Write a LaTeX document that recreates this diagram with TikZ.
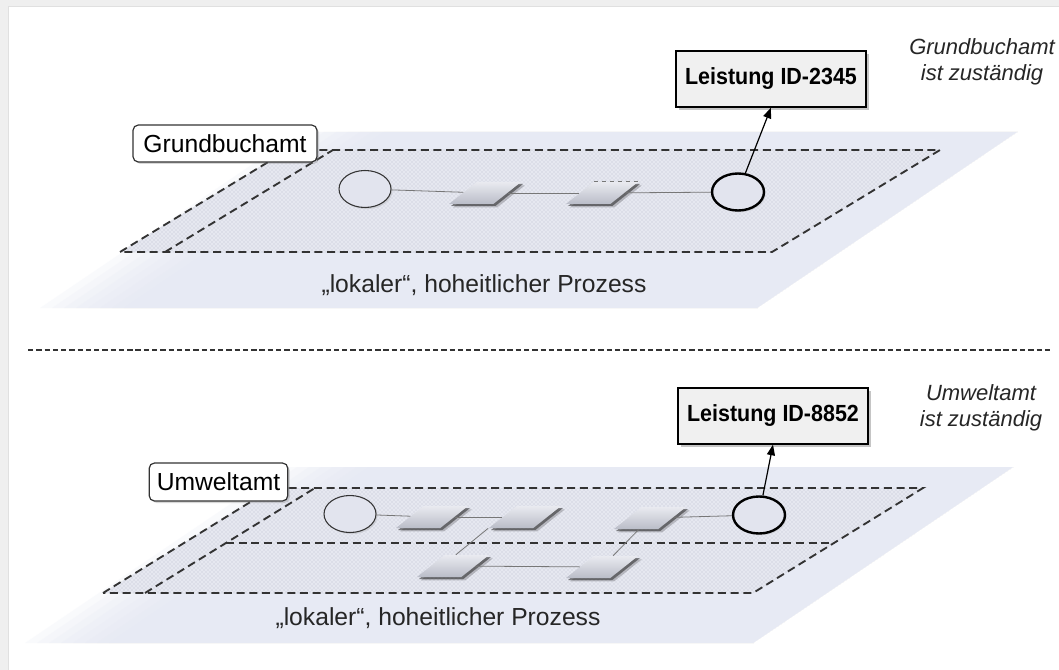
\documentclass[tikz,border=0pt]{standalone}
\usepackage{fontspec}
\setmainfont{Liberation Sans}
\newfontfamily\boxfont[FakeStretch=0.92]{Liberation Sans}
\usetikzlibrary{shapes.geometric,arrows.meta,shadows,patterns,calc}

\definecolor{plane}{HTML}{E4E7F4}
\definecolor{sheet}{HTML}{E6E8F0}
\definecolor{dotc}{HTML}{BCC1CE}
\definecolor{edge}{HTML}{333333}
\definecolor{taskhi}{HTML}{E9EAF0}
\definecolor{tasklo}{HTML}{BABDC8}
\definecolor{bubble}{HTML}{E2E4EE}
\definecolor{framec}{HTML}{EFEFEF}
\definecolor{flowc}{HTML}{777777}

\tikzset{
  sheetline/.style={draw=edge, line width=1.4pt, dash pattern=on 6pt off 3.5pt},
  task/.style={trapezium, trapezium left angle=31, trapezium right angle=149,
    trapezium stretches=true, minimum width=54pt, minimum height=16.5pt,
    inner sep=1pt, top color=taskhi, bottom color=tasklo,
    drop shadow={shadow xshift=2.8pt, shadow yshift=-2.6pt, opacity=0.2, fill=black},
    drop shadow={shadow xshift=1.5pt, shadow yshift=-1.5pt, opacity=0.55, fill=black!85}},
  startev/.style={ellipse, minimum width=39pt, minimum height=27.75pt,
    fill=bubble, draw=edge, line width=0.8pt, inner sep=0pt,
    drop shadow={shadow xshift=1.2pt, shadow yshift=-1.2pt, opacity=0.2}},
  endev/.style={startev, draw=black, line width=1.8pt},
  flow/.style={draw=flowc, line width=0.6pt},
  result/.style={draw=black, line width=0.9pt, fill=black!6,
    minimum width=142.5pt, minimum height=42pt, inner sep=0pt,
    font=\boxfont\bfseries\fontsize{17.5}{20}\selectfont,
    drop shadow={shadow xshift=2pt, shadow yshift=-2pt, opacity=.45}},
  agency/.style={draw=edge, line width=0.9pt, rounded corners=4pt, fill=white,
    inner sep=0pt, font=\fontsize{18.5}{22}\selectfont,
    drop shadow={shadow xshift=1.5pt, shadow yshift=-1.5pt, opacity=.3}},
  caption/.style={font=\fontsize{18.5}{22}\selectfont, text=black!85},
  remark/.style={font=\itshape\fontsize{16.5}{19.5}\selectfont, align=center, text=black!85},
  link/.style={draw=black, line width=0.9pt, -{Triangle[length=8pt,width=6pt]}},
}

\begin{document}
\begin{tikzpicture}[x=0.75pt,y=-0.75pt]
\useasboundingbox (0,0) rectangle (1059,670);
\fill[white] (0,0) rectangle (1059,670);

% page frame
\fill[framec] (0,0) rectangle (1059,7);
\fill[framec] (0,0) rectangle (8,670);
\draw[black!12, line width=0.75pt] (8,7) -- (1059,7);
\draw[black!12, line width=0.75pt] (8,7) -- (8,670);

% ---------- upper level: Grundbuchamt ----------
% soft backing plane, faded towards its left edge
\foreach \d in {0,12,...,84}
  \fill[plane, opacity=0.19] (300+\d,132) -- (1017,132) -- (757,308) -- (40+\d,308) -- cycle;

\coordinate (a1) at (288,150);
\coordinate (a2) at (940,150);
\coordinate (a3) at (772,252);
\coordinate (a4) at (120,252);
\coordinate (b1) at (333,150);
\coordinate (b4) at (165,252);

\foreach \s in {2,4,6}
  \fill[black, opacity=0.05, yshift=-\s*0.75pt] (a1) -- (a2) -- (a3) -- (a4) -- cycle;
\fill[sheet] (a1) -- (a2) -- (a3) -- (a4) -- cycle;
\fill[pattern=crosshatch dots, pattern color=dotc] (a1) -- (a2) -- (a3) -- (a4) -- cycle;
\draw[sheetline] (a4) -- (a1) -- (a2) -- (a3) -- cycle;
\draw[sheetline] (b4) -- (b1);

% ---------- lower level: Umweltamt ----------
\foreach \d in {0,12,...,84}
  \fill[plane, opacity=0.19] (285+\d,467) -- (1013,467) -- (753,643) -- (25+\d,643) -- cycle;

\coordinate (c1) at (273,488);
\coordinate (c2) at (923,488);
\coordinate (c3) at (753,593);
\coordinate (c4) at (103,593);
\coordinate (d1) at (315,488);
\coordinate (d4) at (145,593);

\foreach \s in {2,4,6}
  \fill[black, opacity=0.05, yshift=-\s*0.75pt] (c1) -- (c2) -- (c3) -- (c4) -- cycle;
\fill[sheet] (c1) -- (c2) -- (c3) -- (c4) -- cycle;
\fill[pattern=crosshatch dots, pattern color=dotc] (c1) -- (c2) -- (c3) -- (c4) -- cycle;
\draw[sheetline] (c4) -- (c1) -- (c2) -- (c3) -- cycle;
\draw[sheetline] (d4) -- (d1);
\draw[sheetline] ($(d4)!0.476!(d1)$) -- ($(c3)!0.476!(c2)$);

% separator between the two levels
\draw[edge, line width=1.7pt, dash pattern=on 4pt off 2.2pt] (28,350) -- (1052,350);

% ---------- labels ----------
\node[agency, minimum width=138pt, minimum height=27.75pt] (gb) at (225,143.5) {Grundbuchamt};
\node[agency, minimum width=104pt, minimum height=28.5pt] (ua) at (218.5,482) {Umweltamt};

\node[caption] (cap1) at (484,285) {„lokaler“, hoheitlicher Prozess};
\node[caption] (cap2) at (438,618) {„lokaler“, hoheitlicher Prozess};

\node[remark] (rem1) at (982,62) {Grundbuchamt\\ist zuständig};
\node[remark] (rem2) at (981,408) {Umweltamt\\ist zuständig};

\node[result] (res1) at (771,79) {Leistung ID-2345};
\node[result] (res2) at (773,416) {Leistung ID-8852};

% ---------- upper process ----------
\node[startev] (s1) at (365,189) {};
\node[task] (t1) at (485,193) {};
\node[task] (t2) at (602,193) {};
\node[endev] (e1) at (738,192) {};
\draw[dashed, flowc, line width=0.5pt] (t2.top left corner) -- (t2.top right corner);

\draw[flow] (s1) -- (t1);
\draw[flow] (t1) -- (t2);
\draw[flow] (t2) -- (e1);
\draw[link] (e1) -- (res1.south);

% ---------- lower process ----------
\node[startev] (s2) at (350,514) {};
\node[task] (p1) at (432,517) {};
\node[task] (p2) at (525,517) {};
\node[task] (p3) at (650,518) {};
\node[task] (p4) at (453,566) {};
\node[task] (p5) at (602,567) {};
\node[endev] (e2) at (759,515) {};

\draw[flow] (s2) -- (p1);
\draw[flow] (p1) -- (p2);
\draw[flow] (p2.bottom left corner) -- ($(p4.top left corner)!0.5!(p4.top side)$);
\draw[flow] (p4) -- (p5);
\draw[flow] (p5) -- (p3);
\draw[flow] (p3) -- (e2);
\draw[link] (e2) -- (res2.south);
\end{tikzpicture}
\end{document}
